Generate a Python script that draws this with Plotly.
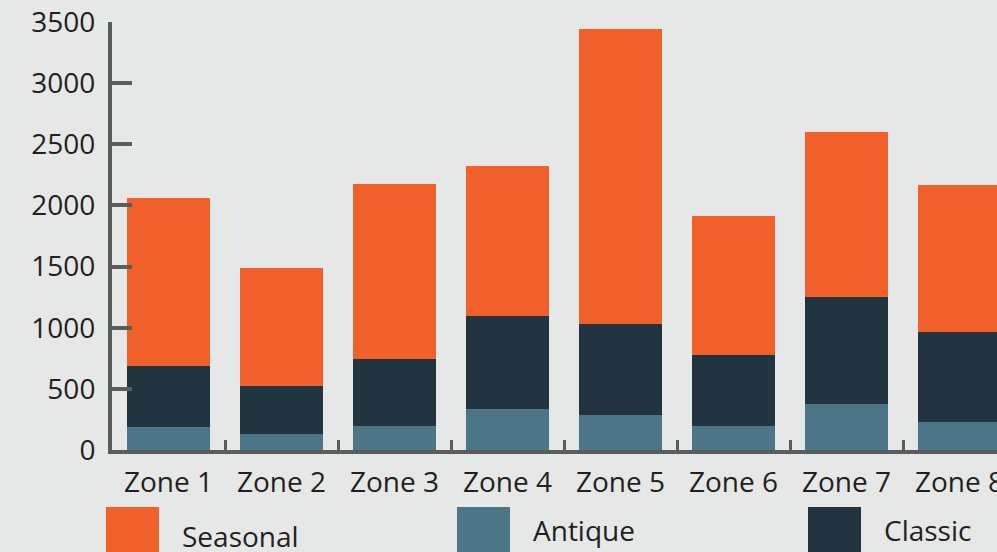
import plotly.graph_objects as go

zones = ["Zone 1", "Zone 2", "Zone 3", "Zone 4", "Zone 5", "Zone 6", "Zone 7", "Zone 8"]
antique = [185, 134, 200, 338, 289, 194, 379, 232]
classic = [505, 392, 547, 760, 744, 586, 875, 736]
seasonal = [1373, 965, 1429, 1226, 2410, 1135, 1347, 1202]
y_ticks = [0, 500, 1000, 1500, 2000, 2500, 3000, 3500]

series = [
    ("Antique", antique, "#4d7588"),
    ("Classic", classic, "#22343f"),
    ("Seasonal", seasonal, "#f15f2a"),
]

W, H = 997, 552
L, T, B = 112, 22, 450
R = 997
BG = "#e6e8e7"
AX = "#5b5d5c"
TXT = "#231f20"
FONT = "Open Sans"
FS = 28

fig = go.Figure()
for name, vals, col in series:
    fig.add_trace(go.Bar(x=zones, y=vals, name=name, marker=dict(color=col, line=dict(width=0)),
                         showlegend=False))

def px_x(p):
    return (p - L) / (R - L)

def px_y(p):
    return (B - p) / (B - T)

shapes = []
annotations = []
legend_items = [("Seasonal", "#f15f2a", 106, 536), ("Antique", "#4d7588", 457, 530), ("Classic", "#22343f", 808, 530)]
for name, col, x0, ty in legend_items:
    shapes.append(dict(type="rect", xref="paper", yref="paper",
                       x0=px_x(x0), x1=px_x(x0 + 53), y0=px_y(507), y1=px_y(570),
                       fillcolor=col, line=dict(width=0), layer="above"))
    annotations.append(dict(xref="paper", yref="paper", x=px_x(x0 + 74), y=px_y(ty),
                            xanchor="left", yanchor="middle", text=name, showarrow=False,
                            font=dict(family=FONT, size=FS, color=TXT)))

fig.update_layout(
    width=W, height=H,
    margin=dict(l=L, r=W - R, t=T, b=H - B),
    paper_bgcolor=BG, plot_bgcolor=BG,
    barmode="stack", bargap=0.274,
    font=dict(family=FONT, size=FS, color=TXT),
    shapes=shapes, annotations=annotations,
    xaxis=dict(range=[-0.5, -0.5 + (R - L) / 113.0], showline=True, linewidth=4, linecolor=AX,
               ticks="inside", tickson="boundaries", ticklen=10, tickwidth=3, tickcolor=AX,
               showgrid=False, zeroline=False, ticklabelstandoff=4, automargin=False,
               tickfont=dict(family=FONT, size=FS, color=TXT)),
    yaxis=dict(range=[0, 3500], tickvals=y_ticks, showline=True, linewidth=4, linecolor=AX,
               ticks="inside", ticklen=20, tickwidth=4, tickcolor=AX, automargin=False,
               showgrid=False, zeroline=False, ticklabelstandoff=7,
               tickfont=dict(family=FONT, size=FS, color=TXT)),
)

fig.write_html("out.html", config={"displayModeBar": False},
               post_script="document.body.style.margin='0';document.body.style.background='#e6e8e7';")
